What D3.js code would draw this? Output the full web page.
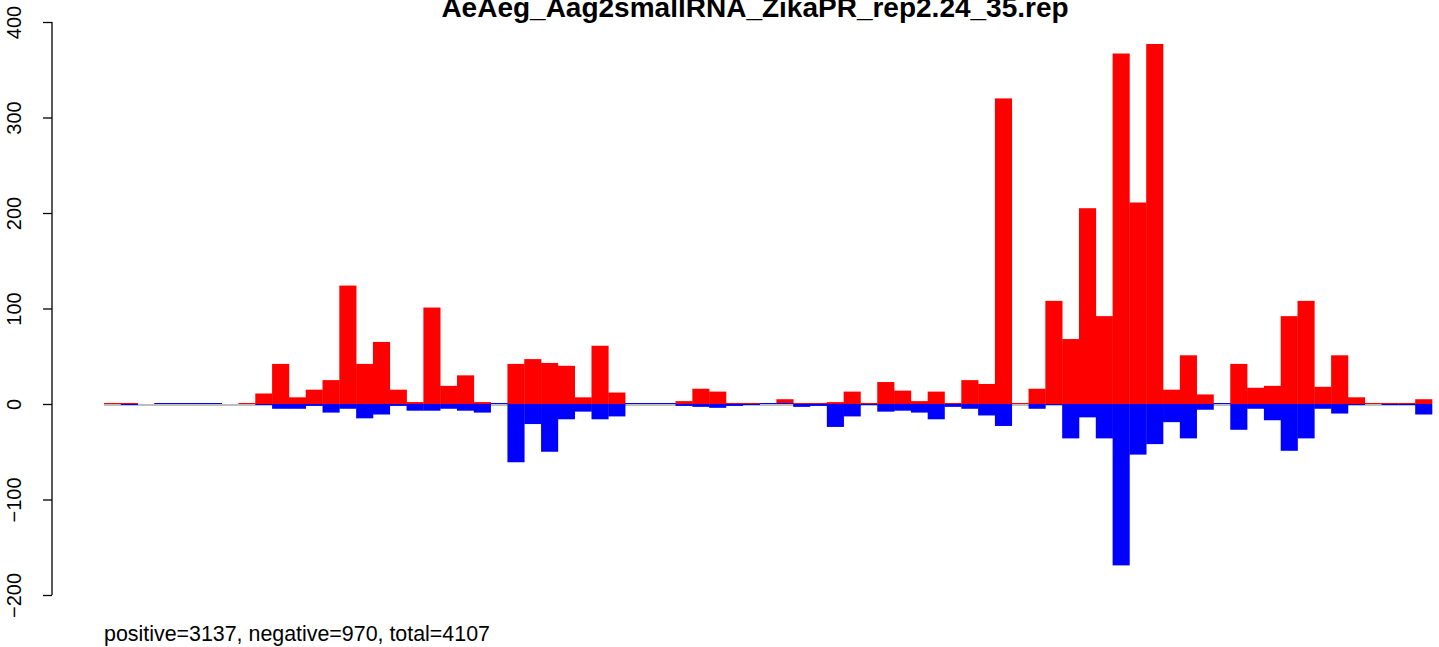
<!DOCTYPE html>
<html>
<head>
<meta charset="utf-8">
<script src="https://cdn.jsdelivr.net/npm/d3@7"></script>
<style>
  html, body { margin: 0; padding: 0; background: #ffffff; }
  svg { display: block; }
  text { font-family: "Liberation Sans", Arial, Helvetica, sans-serif; }
</style>
</head>
<body>
<svg id="chart" width="1439" height="647"></svg>
<script>
// ---- data ----
const titleText = "AeAeg_Aag2smallRNA_ZikaPR_rep2.24_35.rep";
const footerText = "positive=3137, negative=970, total=4107";
const bins = d3.range(79); // bin index along the sequence
const positiveValues = [
  0, 0, null, 0, 0, 0, 0, null, 0, 11,
  42, 7, 15, 25, 124, 42, 65, 15, 2, 101,
  19, 30, 2, 0, 42, 47, 43, 40, 7, 61,
  12, 0, 0, 1, 3, 16, 13, 1, 1, 0,
  5, 0, 1, 2, 13, 1, 23, 14, 3, 13,
  1, 25, 21, 320, 1, 16, 108, 68, 205, 92,
  367, 211, 377, 15, 51, 10, 0, 42, 17, 19,
  92, 108, 18, 51, 7, 0, 1, 1, 5
];
const negativeValues = [
  null, -1, null, 0, 0, 0, 0, null, null, -1,
  -5, -5, -2, -9, -5, -15, -11, -2, -7, -7,
  -5, -7, -9, 0, -61, -21, -50, -16, -8, -16,
  -13, 0, 0, 0, -2, -3, -4, -2, -1, 0,
  0, -3, -2, -24, -13, -1, -8, -7, -9, -16,
  -3, -5, -12, -23, null, -5, -1, -36, -14, -36,
  -169, -53, -42, -19, -36, -6, 0, -27, -5, -17,
  -49, -36, -5, -10, -1, null, -1, -1, -11
];
const yTicks = [-200, -100, 0, 100, 200, 300, 400];
const yTickLabels = ["\u2212200", "\u2212100", "0", "100", "200", "300", "400"];

// ---- layout ----
const svg = d3.select("#chart");
const x = d3.scaleLinear().domain([0, bins.length]).range([104, 1432]);
const y = d3.scaleLinear().domain([-200, 400]).range([595, 22]);
const axisX = 52;

// zero baseline (grey)
svg.append("line")
  .attr("x1", x(0)).attr("x2", x(bins.length))
  .attr("y1", y(0) + 1).attr("y2", y(0) + 1)
  .attr("stroke", "#BEBEBE").attr("stroke-width", 2);

function barRect(v) {
  const y0 = y(0), y1 = y(v);
  const h = Math.max(1, Math.abs(y1 - y0));
  return { top: v >= 0 ? y0 - h : y0, h: h };
}

// positive (red)
svg.append("g").selectAll("rect")
  .data(bins.filter(i => positiveValues[i] !== null))
  .join("rect")
  .attr("x", i => x(i))
  .attr("width", i => x(i + 1) - x(i) + 0.3)
  .attr("y", i => barRect(positiveValues[i]).top)
  .attr("height", i => barRect(positiveValues[i]).h)
  .attr("fill", "#FF0000");

// negative (blue)
svg.append("g").selectAll("rect")
  .data(bins.filter(i => negativeValues[i] !== null))
  .join("rect")
  .attr("x", i => x(i))
  .attr("width", i => x(i + 1) - x(i) + 0.3)
  .attr("y", i => barRect(negativeValues[i]).top)
  .attr("height", i => barRect(negativeValues[i]).h)
  .attr("fill", "#0000FF");

// y axis
const axisG = svg.append("g").attr("transform", `translate(${axisX},0)`);
axisG.call(d3.axisLeft(y).tickValues(yTicks).tickSize(9).tickSizeOuter(0).tickFormat((d, i) => yTickLabels[i]));
axisG.select(".domain").remove();
axisG.append("line").attr("x1", 0).attr("x2", 0)
  .attr("y1", y(-200)).attr("y2", y(400))
  .attr("stroke", "#000").attr("stroke-width", 1.3);
axisG.selectAll(".tick line").attr("stroke", "#000").attr("stroke-width", 1.3);
axisG.selectAll(".tick text")
  .attr("x", null).attr("dy", null)
  .attr("transform", "translate(-31,0) rotate(-90)")
  .attr("text-anchor", "middle")
  .attr("font-size", 20)
  .attr("font-family", "'Liberation Sans', Arial, sans-serif")
  .attr("fill", "#000");

// title
svg.append("text")
  .attr("x", 755).attr("y", 17)
  .attr("text-anchor", "middle")
  .attr("font-weight", "bold")
  .attr("font-size", 28)
  .attr("fill", "#000")
  .text(titleText);

// footer
svg.append("text")
  .attr("x", 104).attr("y", 641)
  .attr("font-size", 21.4)
  .attr("fill", "#000")
  .text(footerText);
</script>
</body>
</html>
